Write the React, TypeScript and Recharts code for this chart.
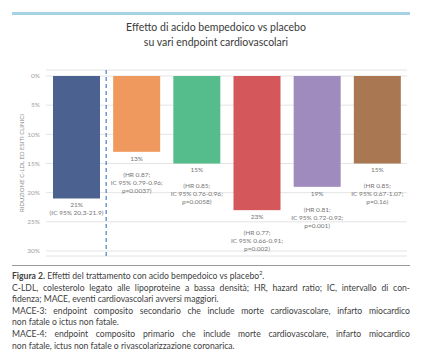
import React from 'react';
import {
  BarChart,
  Bar,
  XAxis,
  YAxis,
  CartesianGrid,
  ReferenceLine,
  Cell,
} from 'recharts';

// Categories and values (% reduction)
const categories = ['C-LDL', 'MACE-4', 'MACE-3', 'Infarto del\nmiocardio', 'Rivascolarizzazione\ncoronarica', 'Ictus'];
const reductions = [21, 13, 15, 23, 19, 15];
const barColors = ['#4b6290', '#f0995e', '#55bd8b', '#d4575b', '#9f8bbd', '#a97853'];
const barNotes = [
  ['21%', '(IC 95% 20.3-21.9)'],
  ['13%', '', '(HR 0.87;', 'IC 95% 0.79-0.96;', 'p=0.0037)'],
  ['15%', '', '(HR 0.85;', 'IC 95% 0.76-0.96;', 'p=0.0058)'],
  ['23%', '', '(HR 0.77;', 'IC 95% 0.66-0.91;', 'p=0.002)'],
  ['19%', '', '(HR 0.81;', 'IC 95% 0.72-0.92;', 'p=0.001)'],
  ['15%', '', '(HR 0.85;', 'IC 95% 0.67-1.07;', 'p=0.16)'],
];
const yTicks = [0, 5, 10, 15, 20, 25, 30];

const data = categories.map((name, i) => ({
  name,
  value: reductions[i],
  notes: barNotes[i],
}));

const FONT = 'Lato, "Open Sans", sans-serif';

const CategoryTick = (props: any) => {
  const { x, payload } = props;
  const lines = String(payload.value).split('\n');
  return (
    <g>
      {lines.map((line, i) => (
        <text
          key={i}
          x={x}
          y={69 - (lines.length - 1 - i) * 8.5}
          textAnchor="middle"
          fontSize={7}
          fontFamily={FONT}
          fill="#595959"
        >
          {line}
        </text>
      ))}
    </g>
  );
};

const BarWithNotes = (props: any) => {
  const { x, y, width, height, fill, payload } = props;
  const top = Math.min(y, y + height);
  const bottom = Math.max(y, y + height);
  return (
    <g>
      <rect x={x} y={top} width={width} height={bottom - top} fill={fill} />
      {payload.notes.map((line: string, i: number) => (
        <text
          key={i}
          x={x + width / 2}
          y={bottom + 9 + i * 8}
          textAnchor="middle"
          fontSize={6.5}
          fontFamily={FONT}
          fill="#757575"
        >
          {line}
        </text>
      ))}
    </g>
  );
};

const YLabel = (props: any) => {
  const { viewBox } = props;
  const cx = viewBox.x + 21;
  const cy = viewBox.y + viewBox.height / 2;
  return (
    <text
      x={cx}
      y={cy}
      transform={`rotate(-90 ${cx} ${cy})`}
      textAnchor="middle"
      dominantBaseline="central"
      fontSize={6}
      fontFamily={FONT}
      fill="#8c8c8c"
    >
      RIDUZIONE C-LDL ED ESITI CLINICI
    </text>
  );
};

const justified: React.CSSProperties = { textAlign: 'justify', textAlignLast: 'justify' };

export default function App() {
  return (
    <div style={{ position: 'absolute', left: 0, top: 0, width: 425, height: 356, background: '#fff', fontFamily: FONT }}>
      <div style={{ position: 'absolute', left: 12, top: 12, width: 398, height: 3, background: '#a6d2e6' }} />
      <div
        style={{
          position: 'absolute',
          left: 1,
          top: 19.5,
          width: 430,
          textAlign: 'center',
          fontSize: 10.5,
          lineHeight: '15px',
          color: '#3a3a3a',
        }}
      >
        Effetto di acido bempedoico vs placebo
        <br />
        su vari endpoint cardiovascolari
      </div>

      <div style={{ position: 'absolute', left: 0, top: 0 }}>
        <BarChart width={425} height={266} data={data} margin={{ top: 70, right: 18, bottom: 10, left: 0 }}>
          <CartesianGrid vertical={false} stroke="#e4e4e4" />
          <XAxis
            dataKey="name"
            orientation="top"
            height={0}
            axisLine={false}
            tickLine={false}
            interval={0}
            tick={(p: any) => <CategoryTick {...p} />}
          />
          <YAxis
            type="number"
            reversed
            domain={[-1.03, 30.86]}
            allowDataOverflow
            ticks={yTicks}
            width={46}
            axisLine={false}
            tickLine={false}
            tickSize={0}
            tickMargin={6}
            tickFormatter={(v: number) => `${v}%`}
            tick={{ fontSize: 6.5, fill: '#a0a0a0', fontFamily: FONT }}
            label={<YLabel />}
          />
          <Bar dataKey="value" barSize={47} isAnimationActive={false} shape={(p: any) => <BarWithNotes {...p} />}>
            {data.map((d, i) => (
              <Cell key={d.name} fill={barColors[i]} />
            ))}
          </Bar>
          <ReferenceLine
            x="C-LDL"
            position="end"
            stroke="#4a7fc1"
            strokeWidth={1.2}
            strokeDasharray="4 3"
          />
        </BarChart>
      </div>

      <div style={{ position: 'absolute', left: 12, top: 265, width: 398, height: 1, background: '#9a9a9a' }} />

      <div
        style={{
          position: 'absolute',
          left: 12,
          top: 271,
          width: 398,
          fontSize: 8.6,
          lineHeight: '11.6px',
          color: '#404040',
        }}
      >
        <div>
          <b>Figura 2.</b> Effetti del trattamento con acido bempedoico vs placebo
          <sup style={{ fontSize: 5.5, lineHeight: 0 }}>2</sup>.
        </div>
        <div style={justified}>
          C-LDL, colesterolo legato alle lipoproteine a bassa densità; HR, hazard ratio; IC, intervallo di con-
        </div>
        <div>fidenza; MACE, eventi cardiovascolari avversi maggiori.</div>
        <div style={justified}>
          MACE-3: endpoint composito secondario che include morte cardiovascolare, infarto miocardico
        </div>
        <div>non fatale o ictus non fatale.</div>
        <div style={justified}>
          MACE-4: endpoint composito primario che include morte cardiovascolare, infarto miocardico
        </div>
        <div>non fatale, ictus non fatale o rivascolarizzazione coronarica.</div>
      </div>
    </div>
  );
}
